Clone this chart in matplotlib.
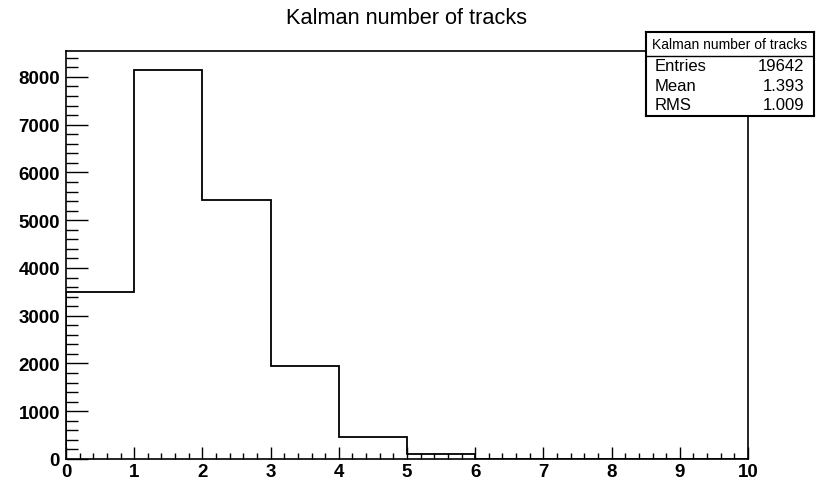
import matplotlib
matplotlib.use('Agg')
import matplotlib.pyplot as plt
from matplotlib.ticker import MultipleLocator

plt.rcParams['font.family'] = ['Liberation Sans', 'DejaVu Sans']

# ---- data ----
bin_edges = [0, 1, 2, 3, 4, 5, 6, 7, 8, 9, 10]
counts = [3503, 8136, 5432, 1945, 463, 100, 0, 0, 0, 0]
title = "Kalman number of tracks"
stat_labels = ["Entries", "Mean", "RMS"]
stat_values = ["19642", "1.393", "1.009"]

W, H = 821, 481
fig = plt.figure(figsize=(W / 100, H / 100), dpi=100)
fig.patch.set_facecolor('white')

# main frame (pixel geometry)
L, R, T, B = 66, 748, 52, 460
ax = fig.add_axes([L / W, 1 - B / H, (R - L) / W, (B - T) / H])
ax.stairs(counts, bin_edges, color='black', lw=1.3)
ax.set_xlim(0, 10)
ax.set_ylim(0, 1.05 * max(counts))

ax.xaxis.set_major_locator(MultipleLocator(1))
ax.xaxis.set_minor_locator(MultipleLocator(0.2))
ax.yaxis.set_major_locator(MultipleLocator(1000))
ax.yaxis.set_minor_locator(MultipleLocator(200))

ax.tick_params(axis='x', which='major', direction='in', length=8.6, width=1.0,
               pad=3.2, labelsize=13.5, top=False)
ax.tick_params(axis='x', which='minor', direction='in', length=4.3, width=1.0, top=False)
ax.tick_params(axis='y', which='major', direction='in', length=15.5, width=1.0,
               pad=4.3, labelsize=13.5, right=False)
ax.tick_params(axis='y', which='minor', direction='in', length=8.3, width=1.0, right=False)
for lab in ax.get_xticklabels() + ax.get_yticklabels():
    lab.set_fontweight('bold')
for s in ax.spines.values():
    s.set_linewidth(1.2)
    s.set_color('black')

fig.text(406 / W, 1 - 18 / H, title, ha='center', va='center', fontsize=15.7)

# stats box
bx0, bx1, by0, by1 = 646, 814, 33.3, 116.7
sb = fig.add_axes([bx0 / W, 1 - by1 / H, (bx1 - bx0) / W, (by1 - by0) / H])
sb.set_xlim(0, bx1 - bx0)
sb.set_ylim(by1 - by0, 0)
sb.set_xticks([])
sb.set_yticks([])
sb.set_facecolor('white')
for s in sb.spines.values():
    s.set_linewidth(1.5)
    s.set_color('black')
sb.axhline(56.7 - by0, color='black', lw=1.0)
sb.text((bx1 - bx0) / 2, 45 - by0, title, ha='center', va='center', fontsize=10)
row_y = [66.7, 86.7, 106]
for lab, val, yy in zip(stat_labels, stat_values, row_y):
    sb.text(655 - bx0, yy - by0, lab, ha='left', va='center', fontsize=12)
    sb.text(804 - bx0, yy - by0, val, ha='right', va='center', fontsize=12)

fig.savefig('out.png', dpi=100, facecolor='white')
